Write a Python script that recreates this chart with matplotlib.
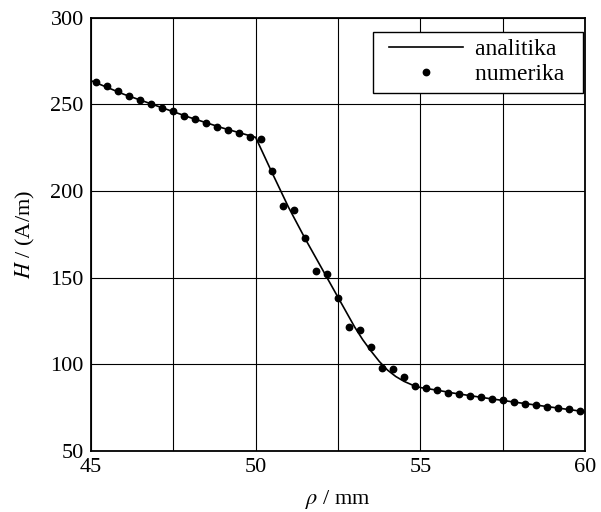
import matplotlib
matplotlib.use("Agg")
import matplotlib.pyplot as plt
from matplotlib.ticker import MultipleLocator
from matplotlib.legend_handler import HandlerLine2D

plt.rcParams['font.family'] = ['Liberation Serif', 'DejaVu Serif']
plt.rcParams['mathtext.fontset'] = 'stix'

# numerical results (rho in mm, H in A/m)
rho_num = [45.17, 45.5, 45.83, 46.17, 46.5, 46.83, 47.17, 47.5, 47.83, 48.17,
           48.5, 48.83, 49.17, 49.5, 49.83,
           50.17, 50.5, 50.83, 51.17, 51.5, 51.83, 52.17, 52.5, 52.83, 53.17,
           53.5, 53.83, 54.17, 54.5, 54.83,
           55.17, 55.5, 55.83, 56.17, 56.5, 56.83, 57.17, 57.5, 57.83, 58.17,
           58.5, 58.83, 59.17, 59.5, 59.83]
H_num = [262.7, 260.6, 257.7, 254.8, 252.5, 250.2, 248.1, 246.0, 243.5, 241.4,
         239.1, 237.2, 235.4, 233.3, 231.4,
         229.9, 211.5, 191.3, 189.0, 172.6, 153.7, 151.8, 138.1, 121.5, 119.6,
         109.6, 97.5, 96.9, 92.5, 87.3,
         86.0, 84.8, 83.4, 82.5, 81.5, 80.8, 79.8, 79.0, 77.9, 77.1,
         76.1, 75.3, 74.6, 73.9, 72.7]

# analytical curve
rho_an = [45, 46, 47, 48, 49, 50, 50.5, 51, 51.5, 52, 52.5, 53, 53.25, 53.5,
          53.75, 54, 54.25, 54.5, 54.75, 55, 55.5, 56, 57, 58, 59, 60]
H_an = [263.8, 255.9, 249.2, 242.5, 236.4, 231.0, 210.5, 190.5, 172.5, 155.5,
        138.5, 121.5, 114.0, 107.5, 101.5, 96.5, 92.8, 90.0, 87.9, 86.4,
        84.9, 83.2, 80.3, 77.6, 75.0, 72.4]

fig = plt.figure(figsize=(6.01, 5.12), dpi=100)
ax = fig.add_axes([0.151, 0.120, 0.823, 0.845])

line_an, = ax.plot(rho_an, H_an, color='black', lw=1.2, label='analitika  ',
                   zorder=3)
ax.plot(rho_num, H_num, 'o', color='black', ms=4.6, mec='black', lw=0,
        label='numerika  ', zorder=4)

ax.set_xlim(45, 60)
ax.set_ylim(50, 300)
ax.xaxis.set_major_locator(MultipleLocator(5))
ax.xaxis.set_minor_locator(MultipleLocator(2.5))
ax.yaxis.set_major_locator(MultipleLocator(50))
ax.grid(True, which='both', color='black', lw=0.8)
ax.set_axisbelow(True)
ax.tick_params(which='both', length=0, labelsize=16, pad=5)
for s in ax.spines.values():
    s.set_linewidth(1.3)

ax.set_xlabel(r'$\rho$ / mm', fontsize=16, labelpad=8)
ax.set_ylabel(r'$H$ / (A/m)', fontsize=16, labelpad=10)

leg = ax.legend(loc='upper right', bbox_to_anchor=(0.995, 0.968),
                borderaxespad=0, fontsize=17, fancybox=False, framealpha=1,
                edgecolor='black', handlelength=3.9, handletextpad=0.1,
                labelspacing=0.15, borderpad=0.3, numpoints=1,
                handler_map={line_an: HandlerLine2D(numpoints=2,
                                                    marker_pad=0.38)})
leg.get_frame().set_linewidth(1.0)

fig.savefig('out.png', dpi=100)
